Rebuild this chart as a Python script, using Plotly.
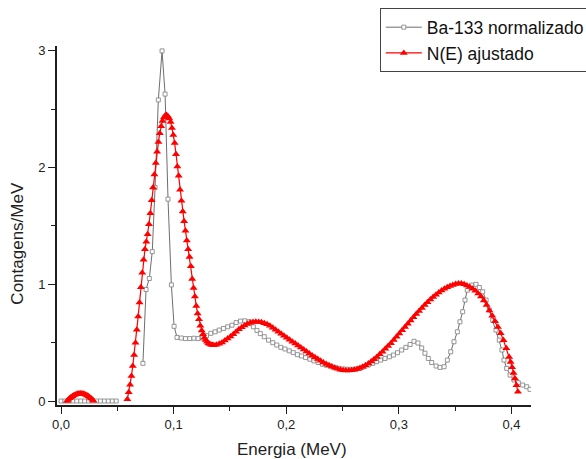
import plotly.graph_objects as go

# Measured spectrum (normalized Ba-133), energy in MeV; None marks the missing channels
ba_energy = [
    0.0000, 0.0035, 0.0070, 0.0105, 0.0140, 0.0175, 0.0210, 0.0245, 0.0280, 0.0315,
    0.0350, 0.0385, 0.0420, 0.0455, 0.0490, 0.0600,
    0.0727, 0.0755, 0.0784, 0.0810, 0.0835, 0.0864, 0.0897, 0.0924, 0.0950, 0.0980,
    0.1004, 0.1030, 0.1068, 0.1105, 0.1143, 0.1180, 0.1217, 0.1255, 0.1292, 0.1330,
    0.1368, 0.1405, 0.1442, 0.1480, 0.1518, 0.1555, 0.1594, 0.1632, 0.1670, 0.1708,
    0.1740, 0.1770, 0.1805, 0.1843, 0.1880, 0.1916, 0.1952, 0.1989, 0.2027, 0.2063,
    0.2099, 0.2136, 0.2172, 0.2210, 0.2246, 0.2284, 0.2322, 0.2358, 0.2394, 0.2432,
    0.2470, 0.2506, 0.2542, 0.2578, 0.2616, 0.2655, 0.2690, 0.2729, 0.2768, 0.2803,
    0.2839, 0.2877, 0.2916, 0.2952, 0.2988, 0.3025, 0.3063, 0.3100, 0.3135, 0.3170,
    0.3203, 0.3232, 0.3262, 0.3292, 0.3331, 0.3366, 0.3402, 0.3431, 0.3461, 0.3490,
    0.3520, 0.3543, 0.3567, 0.3588, 0.3608, 0.3647, 0.3685, 0.3715, 0.3745, 0.3775,
    0.3804, 0.3834, 0.3863, 0.3892, 0.3916, 0.3934, 0.3958, 0.3988, 0.4023, 0.4061,
    0.4100, 0.4136, 0.4165,
]
ba_counts = [
    0, 0, 0, 0, 0, 0, 0, 0, 0, 0,
    0, 0, 0, 0, 0, None,
    0.323, 0.956, 1.05, 1.28, 1.83, 2.58, 3.00, 2.63, 1.73, 0.995,
    0.64, 0.545, 0.54, 0.535, 0.535, 0.538, 0.535, 0.54, 0.56, 0.58,
    0.593, 0.608, 0.622, 0.636, 0.65, 0.672, 0.685, 0.687, 0.68, 0.636,
    0.605, 0.578, 0.551, 0.522, 0.50, 0.48, 0.46, 0.446, 0.43, 0.415,
    0.397, 0.386, 0.372, 0.358, 0.344, 0.33, 0.315, 0.306, 0.298, 0.288,
    0.28, 0.275, 0.272, 0.272, 0.274, 0.28, 0.294, 0.308, 0.323, 0.337,
    0.351, 0.365, 0.379, 0.394, 0.414, 0.437, 0.46, 0.485, 0.512, 0.497,
    0.455, 0.41, 0.365, 0.33, 0.30, 0.288, 0.294, 0.351, 0.422, 0.508,
    0.593, 0.679, 0.765, 0.865, 0.95, 0.993, 1.00, 0.973, 0.936, 0.865,
    0.78, 0.693, 0.608, 0.522, 0.437, 0.351, 0.28, 0.223, 0.18, 0.157,
    0.137, 0.122, 0.10,
]

# Fitted N(E) curve; None marks where the fit is not drawn
fit_energy = [
    0.0052, 0.0064, 0.0076, 0.0088, 0.0100, 0.0112, 0.0124, 0.0136, 0.0148, 0.0160,
    0.0172, 0.0184, 0.0196, 0.0208, 0.0220, 0.0232, 0.0244, 0.0256, 0.0268, 0.0280,
    0.0288, 0.0440,
    0.0589, 0.0601, 0.0613, 0.0625, 0.0637, 0.0649, 0.0661, 0.0673, 0.0685, 0.0697,
    0.0709, 0.0721, 0.0733, 0.0745, 0.0757, 0.0769, 0.0781, 0.0793, 0.0805, 0.0817,
    0.0829, 0.0841, 0.0853, 0.0865, 0.0877, 0.0889, 0.0901, 0.0913, 0.0925, 0.0937,
    0.0949, 0.0961, 0.0973, 0.0985, 0.0997, 0.1009, 0.1021, 0.1033, 0.1045, 0.1057,
    0.1069, 0.1081, 0.1093, 0.1105, 0.1117, 0.1129, 0.1141, 0.1153, 0.1165, 0.1177,
    0.1189, 0.1201, 0.1213, 0.1225, 0.1237, 0.1249, 0.1261, 0.1273, 0.1285, 0.1297,
    0.1309, 0.1321, 0.1333, 0.1345, 0.1357,
    0.1380, 0.1405, 0.1430, 0.1455, 0.1480, 0.1505, 0.1530, 0.1555, 0.1580, 0.1605,
    0.1630, 0.1655, 0.1680, 0.1705, 0.1730, 0.1755, 0.1780, 0.1805, 0.1830, 0.1855,
    0.1880, 0.1905, 0.1930, 0.1955, 0.1980, 0.2005, 0.2030, 0.2055, 0.2080, 0.2105,
    0.2130, 0.2155, 0.2180, 0.2205, 0.2230, 0.2255, 0.2280, 0.2305, 0.2330, 0.2355,
    0.2380, 0.2405, 0.2430, 0.2455, 0.2480, 0.2505, 0.2530, 0.2555, 0.2580, 0.2605,
    0.2630, 0.2655, 0.2680, 0.2705, 0.2730, 0.2755, 0.2780, 0.2805, 0.2830, 0.2855,
    0.2880, 0.2905, 0.2930, 0.2955, 0.2980, 0.3005, 0.3030, 0.3055, 0.3080, 0.3105,
    0.3130, 0.3155, 0.3180, 0.3205, 0.3230, 0.3255, 0.3280, 0.3305, 0.3330, 0.3355,
    0.3380, 0.3405, 0.3430, 0.3455, 0.3480, 0.3505, 0.3530, 0.3555, 0.3580, 0.3605,
    0.3630, 0.3655, 0.3680, 0.3705, 0.3730, 0.3755, 0.3780, 0.3805, 0.3830, 0.3855,
    0.3880, 0.3905, 0.3930, 0.3955, 0.3980, 0.3993, 0.4006, 0.4019, 0.4032, 0.4045,
    0.4058,
]
fit_counts = [
    0.0, 0.012, 0.023, 0.033, 0.041, 0.048, 0.054, 0.059, 0.062, 0.064,
    0.065, 0.064, 0.062, 0.058, 0.053, 0.047, 0.040, 0.031, 0.021, 0.010,
    0.002, None,
    0.015, 0.075, 0.14, 0.215, 0.30, 0.395, 0.50, 0.61, 0.725, 0.845,
    0.975, 1.10, 1.21, 1.30, 1.365, 1.43, 1.515, 1.61, 1.72, 1.83,
    1.94, 2.04, 2.135, 2.22, 2.295, 2.355, 2.40, 2.43, 2.447, 2.45,
    2.44, 2.42, 2.39, 2.34, 2.28, 2.21, 2.115, 2.01, 1.93, 1.81,
    1.715, 1.625, 1.54, 1.46, 1.375, 1.30, 1.235, 1.155, 1.045, 0.968,
    0.895, 0.815, 0.75, 0.70, 0.645, 0.605, 0.572, 0.542, 0.522, 0.507,
    0.496, 0.488, 0.483, 0.48, 0.479,
    0.482, 0.49, 0.502, 0.518, 0.535, 0.553, 0.573, 0.594, 0.614, 0.632,
    0.648, 0.661, 0.671, 0.677, 0.68, 0.678, 0.674, 0.667, 0.657, 0.644,
    0.628, 0.611, 0.594, 0.577, 0.56, 0.543, 0.526, 0.509, 0.492, 0.475,
    0.458, 0.441, 0.424, 0.407, 0.391, 0.375, 0.36, 0.345, 0.331, 0.318,
    0.306, 0.295, 0.285, 0.276, 0.269, 0.264, 0.261, 0.261, 0.264, 0.269,
    0.275, 0.283, 0.294, 0.307, 0.322, 0.339, 0.358, 0.378, 0.40, 0.423,
    0.447, 0.471, 0.496, 0.522, 0.55, 0.578, 0.606, 0.634, 0.662, 0.69,
    0.718, 0.745, 0.772, 0.798, 0.823, 0.847, 0.87, 0.891, 0.911, 0.93,
    0.947, 0.962, 0.975, 0.986, 0.995, 1.002, 1.008, 1.007, 1.0, 0.99,
    0.978, 0.963, 0.944, 0.922, 0.895, 0.862, 0.822, 0.775, 0.73, 0.683,
    0.634, 0.58, 0.52, 0.452, 0.378, 0.335, 0.29, 0.24, 0.194, 0.135,
    0.08,
]

x_ticks = [0.0, 0.1, 0.2, 0.3, 0.4]
y_ticks = [0, 1, 2, 3]

FONT = "Liberation Sans, Arial, sans-serif"
AXIS_COLOR = "#1e1e1e"

fig = go.Figure()

fig.add_trace(go.Scatter(
    x=ba_energy, y=ba_counts,
    name="Ba-133 normalizado",
    mode="lines+markers",
    connectgaps=False,
    line=dict(color="#6e6e6e", width=1),
    marker=dict(symbol="square", size=4, color="white",
                line=dict(color="#8a8a8a", width=0.9)),
))

fig.add_trace(go.Scatter(
    x=fit_energy, y=fit_counts,
    name="N(E) ajustado",
    mode="lines+markers",
    connectgaps=False,
    line=dict(color="#ff0000", width=1.2),
    marker=dict(symbol="triangle-up", size=7, color="#ff0000", line=dict(width=0)),
))

axis_common = dict(
    showline=True, linecolor=AXIS_COLOR, linewidth=1.6,
    ticks="outside", ticklen=7, tickwidth=1.4, tickcolor=AXIS_COLOR,
    showgrid=False, zeroline=False, mirror=False,
    tickfont=dict(family=FONT, size=13, color="#222222"),
)

fig.update_xaxes(
    range=[-0.0036, 0.4174],
    tickvals=x_ticks, tickformat=".1f",
    minor=dict(dtick=0.05, tick0=0, ticks="outside", ticklen=4,
               tickwidth=1.4, tickcolor=AXIS_COLOR, showgrid=False),
    **axis_common,
)
fig.update_yaxes(
    range=[-0.034, 3.042],
    tickvals=y_ticks,
    minor=dict(dtick=0.5, tick0=0, ticks="outside", ticklen=4,
               tickwidth=1.4, tickcolor=AXIS_COLOR, showgrid=False),
    **axis_common,
)

fig.update_layout(
    width=586, height=459,
    margin=dict(l=57, r=55, t=46, b=54, autoexpand=False),
    paper_bgcolor="white", plot_bgcolor="white",
    separators=",.",
    showlegend=True,
    legend=dict(
        x=0.681, y=1.105, xanchor="left", yanchor="top",
        bgcolor="white", bordercolor="#444444", borderwidth=1,
        font=dict(family=FONT, size=17.5, color="#111111"),
        itemwidth=36, tracegroupgap=0,
    ),
    annotations=[
        dict(text="Energia (MeV)", xref="paper", yref="paper",
             x=0.496, y=-0.125, xanchor="center", yanchor="middle",
             showarrow=False, font=dict(family=FONT, size=17, color="#222222")),
        dict(text="Contagens/MeV", xref="paper", yref="paper",
             x=-0.084, y=0.45, xanchor="center", yanchor="middle", textangle=-90,
             showarrow=False, font=dict(family=FONT, size=17, color="#222222")),
    ],
)

fig.write_html("out.html")
